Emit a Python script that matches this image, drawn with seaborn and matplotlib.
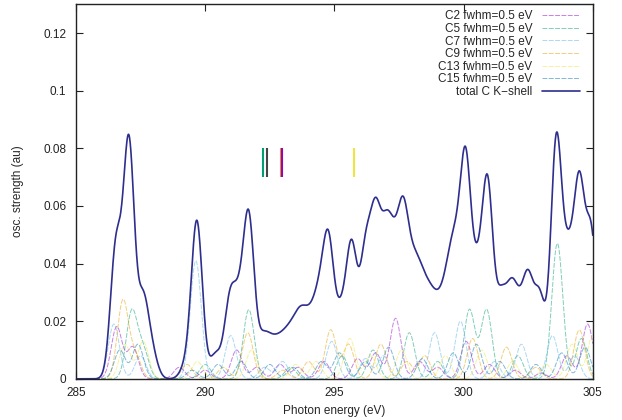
import numpy as np
import pandas as pd
import seaborn as sns
import matplotlib.pyplot as plt

# stick spectra (energy in eV, peak height in au), broadened with fwhm = 0.5 eV
total_e = [286.55, 287.05, 287.60, 287.95, 289.25, 289.68, 290.40, 290.95, 291.30, 291.69,
           292.20, 292.45, 292.70, 292.95, 293.20, 293.45, 293.70, 293.95, 294.20, 294.45,
           294.78, 295.25, 295.67, 296.20, 296.60, 297.00, 297.30, 297.65, 297.95, 298.20,
           298.45, 298.70, 298.95, 299.20, 299.45, 299.70, 300.08, 300.52, 300.93, 301.45,
           301.85, 302.15, 302.50, 302.95, 303.59, 304.05, 304.48, 304.95]
total_h = [0.045, 0.081, 0.026, 0.008, 0.004, 0.0545, 0.0082, 0.0252, 0.020, 0.0542,
           0.010, 0.0072, 0.007, 0.0075, 0.0088, 0.010, 0.0135, 0.011, 0.012, 0.019,
           0.0437, 0.0188, 0.0440, 0.040, 0.0495, 0.0389, 0.0294, 0.047, 0.021, 0.0219,
           0.0169, 0.016, 0.0134, 0.0143, 0.0217, 0.030, 0.0708, 0.029, 0.065, 0.025,
           0.025, 0.015, 0.031, 0.027, 0.0816, 0.036, 0.0634, 0.048]

c2_e = [286.58, 287.2, 289.0, 290.0, 291.22, 292.0, 292.9, 293.6, 294.6, 295.9, 296.6, 297.37,
        298.3, 299.0, 300.1, 301.0, 302.0, 303.0, 304.0, 304.8]
c2_h = [0.018, 0.011, 0.004, 0.003, 0.010, 0.004, 0.005, 0.004, 0.006, 0.007, 0.009, 0.021,
        0.006, 0.004, 0.013, 0.005, 0.003, 0.002, 0.008, 0.019]

c5_e = [287.16, 287.6, 290.0, 291.69, 293.3, 295.3, 296.5, 297.9, 299.0, 300.23, 300.89,
        302.1, 303.63, 304.56]
c5_h = [0.023, 0.010, 0.005, 0.024, 0.004, 0.008, 0.010, 0.016, 0.006, 0.024, 0.024,
        0.008, 0.047, 0.014]

c7_e = [286.47, 287.5, 289.64, 290.99, 292.3, 293.0, 294.9, 296.2, 296.9, 298.88, 299.88,
        301.2, 302.24, 303.44, 304.3]
c7_h = [0.019, 0.008, 0.041, 0.015, 0.004, 0.006, 0.013, 0.007, 0.008, 0.016, 0.020,
        0.006, 0.012, 0.015, 0.008]

c9_e = [286.82, 287.3, 289.3, 290.7, 291.65, 293.0, 294.0, 294.86, 295.55, 296.8, 297.8,
        298.5, 300.35, 301.66, 302.8, 304.48]
c9_h = [0.027, 0.008, 0.005, 0.004, 0.016, 0.003, 0.006, 0.017, 0.012, 0.012, 0.006,
        0.008, 0.014, 0.011, 0.004, 0.017]

c13_e = [286.9, 287.6, 289.7, 291.8, 293.5, 294.3, 295.6, 296.4, 297.6, 299.3, 300.7,
         301.9, 303.2, 304.2, 305.0]
c13_h = [0.012, 0.013, 0.006, 0.010, 0.005, 0.006, 0.014, 0.008, 0.010, 0.008, 0.010,
         0.006, 0.005, 0.012, 0.015]

c15_e = [286.7, 287.4, 289.5, 290.5, 291.4, 292.5, 293.4, 294.5, 295.2, 296.2, 297.1,
         298.4, 299.6, 300.5, 301.4, 302.8, 303.8, 304.7]
c15_h = [0.010, 0.012, 0.003, 0.005, 0.006, 0.005, 0.004, 0.006, 0.009, 0.006, 0.011,
         0.007, 0.009, 0.012, 0.006, 0.005, 0.009, 0.011]

# ionisation thresholds (vertical markers)
ip_e = [292.23, 292.38, 292.92, 292.98, 295.78]
ip_colors = ['#009e73', '#444444', '#e69f00', '#9400d3', '#f0e442']

fwhm = 0.5
sigma = fwhm / 2.3548
energy = np.linspace(285, 305, 1601)


def broaden(pos, hgt):
    y = np.zeros_like(energy)
    for p, h in zip(pos, hgt):
        y += h * np.exp(-(energy - p) ** 2 / (2 * sigma ** 2))
    return y


components = [
    ('C2 fwhm=0.5 eV', c2_e, c2_h, '#9400d3'),
    ('C5 fwhm=0.5 eV', c5_e, c5_h, '#009e73'),
    ('C7 fwhm=0.5 eV', c7_e, c7_h, '#56b4e9'),
    ('C9 fwhm=0.5 eV', c9_e, c9_h, '#e69f00'),
    ('C13 fwhm=0.5 eV', c13_e, c13_h, '#f0e442'),
    ('C15 fwhm=0.5 eV', c15_e, c15_h, '#0072b2'),
]

sns.set_style("ticks")
plt.rcParams['font.family'] = ['Liberation Sans', 'DejaVu Sans']

fig, ax = plt.subplots(figsize=(6.22, 4.2), dpi=100)
fig.subplots_adjust(left=0.122, right=0.953, bottom=0.098, top=0.99)

for label, e, h, col in components:
    df = pd.DataFrame({'energy': energy, 'osc': broaden(e, h)})
    sns.lineplot(data=df, x='energy', y='osc', ax=ax, color=col, lw=0.7, alpha=0.5,
                 linestyle=(0, (5, 1.5)), label=label)

df_tot = pd.DataFrame({'energy': energy, 'osc': broaden(total_e, total_h)})
sns.lineplot(data=df_tot, x='energy', y='osc', ax=ax, color='#2e2e8e', lw=1.2,
             label='total C K\u2212shell')

ax.vlines(ip_e, 0.070, 0.080, colors=ip_colors, lw=1.5)

ax.set_xlim(285, 305)
ax.set_ylim(0, 0.13)
ax.set_xticks([285, 290, 295, 300, 305])
ax.set_yticks([0, 0.02, 0.04, 0.06, 0.08, 0.1, 0.12])
ax.set_yticklabels(['0', '0.02', '0.04', '0.06', '0.08', '0.1', '0.12'])
ax.tick_params(direction='in', length=5, width=0.8, labelsize=8.5, top=True, right=True,
               colors='#222222')
ax.tick_params(axis='y', pad=7)
ax.tick_params(axis='x', pad=6)
for s in ax.spines.values():
    s.set_linewidth(1.0)
    s.set_color('#222222')

ax.set_xlabel('Photon energy (eV)', fontsize=8.5, labelpad=4)
ax.set_ylabel('osc. strength (au)', fontsize=8.5, labelpad=14)

leg = ax.legend(loc='upper right', frameon=False, markerfirst=False, fontsize=8.5,
                handlelength=3.2, labelspacing=0.05, borderaxespad=0.5,
                bbox_to_anchor=(0.995, 1.012))
for t in leg.get_texts():
    t.set_ha('right')

plt.savefig('out.png', dpi=100)
